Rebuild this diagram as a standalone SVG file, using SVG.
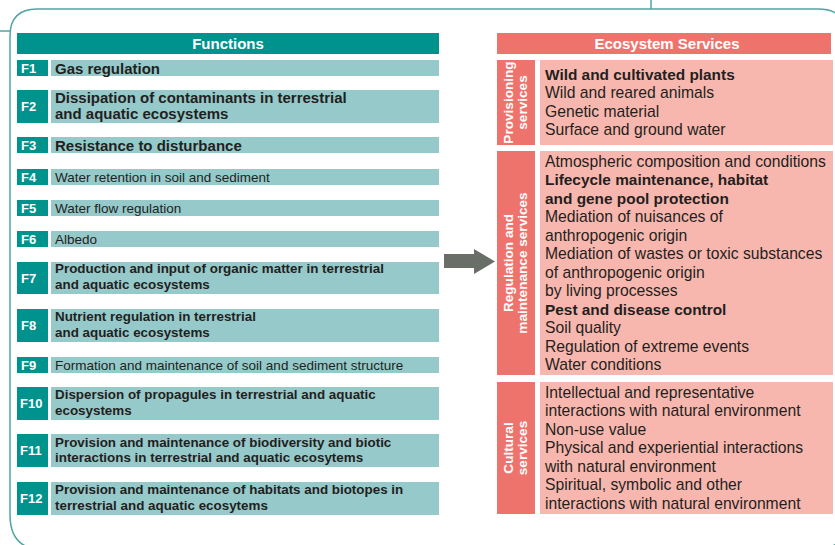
<svg xmlns="http://www.w3.org/2000/svg" width="835" height="545" viewBox="0 0 835 545">
<style>
.frame{fill:none;stroke:#4fa6a2;stroke-width:1.5}
.hdrF{fill:#00938e}
.lab{fill:#00938e}
.cell{fill:#95c9ca}
.hdrE{fill:#ef736d}
.side{fill:#ef736d}
.box{fill:#f8b7ae}
text{font-family:"Liberation Sans",Arial,Helvetica,sans-serif;fill:#231f20}
.hw{fill:#fff;font-weight:bold;font-size:15px}
.fl{fill:#fff;font-weight:bold;font-size:13px}
.b14{font-weight:bold;font-size:15px}
.b13{font-weight:bold;font-size:13.4px}
.r12{font-size:13.5px}
.es{font-size:15.7px}
.esb{font-size:15.4px;font-weight:bold}
.vl{fill:#fff;font-weight:bold;font-size:13.6px}
</style>
<g id="frame">
<path class="frame" d="M10,515 V36 Q10,9 37,9 H818 Q848,9 848,39 V515 Q848,550 813,550 H45 Q10,550 10,515"/>
<line class="frame" x1="0" y1="31" x2="10" y2="31"/>
<line class="frame" x1="651" y1="0" x2="651" y2="9"/>
</g>
<g id="functions-header">
<rect class="hdrF" x="17" y="33" width="422" height="21"/>
<text class="hw" x="228" y="49" text-anchor="middle">Functions</text>
</g>
<g id="F1"><rect class="lab" x="17" y="60" width="31" height="16"/><rect class="cell" x="51" y="60" width="388" height="16"/>
<text class="fl" x="21" y="72.5">F1</text><text class="b14" x="55" y="73.5">Gas regulation</text></g>
<g id="F2"><rect class="lab" x="17" y="90" width="31" height="33"/><rect class="cell" x="51" y="90" width="388" height="33"/>
<text class="fl" x="21" y="111">F2</text><text class="b14" x="55" y="102.5">Dissipation of contaminants in terrestrial</text><text class="b14" x="55" y="118.5">and aquatic ecosystems</text></g>
<g id="F3"><rect class="lab" x="17" y="137" width="31" height="16"/><rect class="cell" x="51" y="137" width="388" height="16"/>
<text class="fl" x="21" y="149.5">F3</text><text class="b14" x="55" y="150.5">Resistance to disturbance</text></g>
<g id="F4"><rect class="lab" x="17" y="169" width="31" height="16"/><rect class="cell" x="51" y="169" width="388" height="16"/>
<text class="fl" x="21" y="181.5">F4</text><text class="r12" x="55" y="181.5">Water retention in soil and sediment</text></g>
<g id="F5"><rect class="lab" x="17" y="200" width="31" height="16"/><rect class="cell" x="51" y="200" width="388" height="16"/>
<text class="fl" x="21" y="212.5">F5</text><text class="r12" x="55" y="212.5">Water flow regulation</text></g>
<g id="F6"><rect class="lab" x="17" y="231" width="31" height="16"/><rect class="cell" x="51" y="231" width="388" height="16"/>
<text class="fl" x="21" y="243.5">F6</text><text class="r12" x="55" y="243.5">Albedo</text></g>
<g id="F7"><rect class="lab" x="17" y="262" width="31" height="32"/><rect class="cell" x="51" y="262" width="388" height="32"/>
<text class="fl" x="21" y="282.5">F7</text><text class="b13" x="55" y="273">Production and input of organic matter in terrestrial</text><text class="b13" x="55" y="289">and aquatic ecosystems</text></g>
<g id="F8"><rect class="lab" x="17" y="309" width="31" height="33"/><rect class="cell" x="51" y="309" width="388" height="33"/>
<text class="fl" x="21" y="330">F8</text><text class="b13" x="55" y="320.5">Nutrient regulation in terrestrial</text><text class="b13" x="55" y="336.5">and aquatic ecosystems</text></g>
<g id="F9"><rect class="lab" x="17" y="357" width="31" height="16"/><rect class="cell" x="51" y="357" width="388" height="16"/>
<text class="fl" x="21" y="369.5">F9</text><text class="r12" x="55" y="369.5">Formation and maintenance of soil and sediment structure</text></g>
<g id="F10"><rect class="lab" x="17" y="387" width="31" height="33"/><rect class="cell" x="51" y="387" width="388" height="33"/>
<text class="fl" x="20" y="408">F10</text><text class="b13" x="55" y="399">Dispersion of propagules in terrestrial and aquatic</text><text class="b13" x="55" y="415">ecosystems</text></g>
<g id="F11"><rect class="lab" x="17" y="434" width="31" height="33"/><rect class="cell" x="51" y="434" width="388" height="33"/>
<text class="fl" x="20" y="455">F11</text><text class="b13" x="55" y="446.5">Provision and maintenance of biodiversity and biotic</text><text class="b13" x="55" y="462">interactions in terrestrial and aquatic ecosytems</text></g>
<g id="F12"><rect class="lab" x="17" y="482" width="31" height="33"/><rect class="cell" x="51" y="482" width="388" height="33"/>
<text class="fl" x="20" y="503">F12</text><text class="b13" x="55" y="494">Provision and maintenance of habitats and biotopes in</text><text class="b13" x="55" y="510">terrestrial and aquatic ecosytems</text></g>
<g id="connectors">
<path d="M444,254 H474 V249 L495,261.5 L474,274 V268 H444 Z" fill="#6a6e69"/>
</g>
<g id="es-header">
<rect class="hdrE" x="497" y="33" width="334" height="21"/>
<text class="hw" x="667" y="49" text-anchor="middle">Ecosystem Services</text>
</g>
<g id="provisioning">
<rect class="side" x="497" y="60" width="38" height="85"/>
<rect class="box" x="540" y="60" width="293" height="85"/>
<text class="vl" transform="translate(516,102.5) rotate(-90)" text-anchor="middle"><tspan x="0" y="-3">Provisioning</tspan><tspan x="0" y="11">services</tspan></text>
<text class="esb" x="545" y="79.5">Wild and cultivated plants</text>
<text class="es" x="545" y="98">Wild and reared animals</text>
<text class="es" x="545" y="116.5">Genetic material</text>
<text class="es" x="545" y="135">Surface and ground water</text>
</g>
<g id="regulation">
<rect class="side" x="497" y="151" width="38" height="224"/>
<rect class="box" x="540" y="151" width="293" height="224"/>
<text class="vl" transform="translate(516,263) rotate(-90)" text-anchor="middle"><tspan x="0" y="-3">Regulation and</tspan><tspan x="0" y="11">maintenance services</tspan></text>
<text class="es" x="545" y="166.5">Atmospheric composition and conditions</text>
<text class="esb" x="545" y="185">Lifecycle maintenance, habitat</text>
<text class="esb" x="545" y="203.5">and gene pool protection</text>
<text class="es" x="545" y="222">Mediation of nuisances of</text>
<text class="es" x="545" y="240.5">anthropogenic origin</text>
<text class="es" x="545" y="259">Mediation of wastes or toxic substances</text>
<text class="es" x="545" y="277.5">of anthropogenic origin</text>
<text class="es" x="545" y="296">by living processes</text>
<text class="esb" x="545" y="314.5">Pest and disease control</text>
<text class="es" x="545" y="333">Soil quality</text>
<text class="es" x="545" y="351.5">Regulation of extreme events</text>
<text class="es" x="545" y="370">Water conditions</text>
</g>
<g id="cultural">
<rect class="side" x="497" y="382" width="38" height="132"/>
<rect class="box" x="540" y="382" width="293" height="132"/>
<text class="vl" transform="translate(516,448) rotate(-90)" text-anchor="middle"><tspan x="0" y="-3">Cultural</tspan><tspan x="0" y="11">services</tspan></text>
<text class="es" x="545" y="397.5">Intellectual and representative</text>
<text class="es" x="545" y="416">interactions with natural environment</text>
<text class="es" x="545" y="434.5">Non-use value</text>
<text class="es" x="545" y="453">Physical and experiential interactions</text>
<text class="es" x="545" y="471.5">with natural environment</text>
<text class="es" x="545" y="490">Spiritual, symbolic and other</text>
<text class="es" x="545" y="508.5">interactions with natural environment</text>
</g>
</svg>
